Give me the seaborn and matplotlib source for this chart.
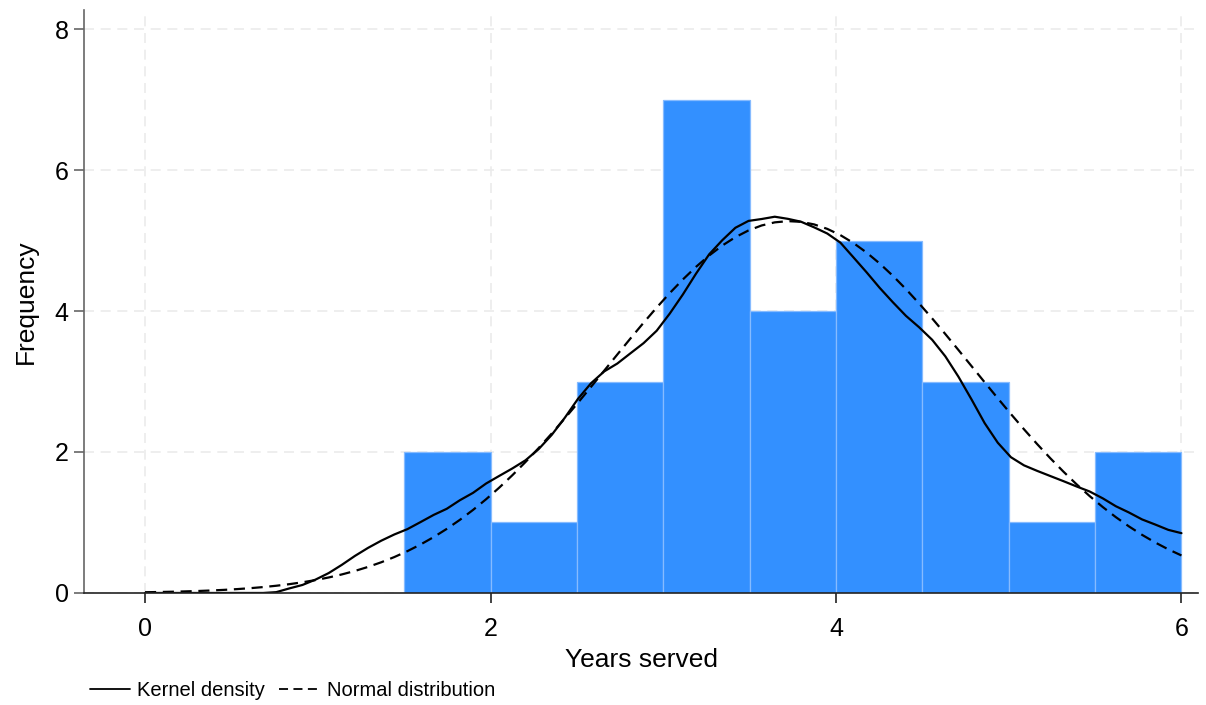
import numpy as np
import pandas as pd
import seaborn as sns
import matplotlib.pyplot as plt
from matplotlib.lines import Line2D

# Years served by each of the 28 members
years_served = [1.75, 1.95,
                2.1,
                2.55, 2.75, 2.9,
                3.1, 3.2, 3.25, 3.3, 3.35, 3.4, 3.45,
                3.75, 3.85, 3.9, 3.95,
                4.0, 4.05, 4.1, 4.2, 4.35,
                4.6, 4.75, 4.9,
                5.15,
                5.9, 6.0]
bin_edges = [1.5, 2.0, 2.5, 3.0, 3.5, 4.0, 4.5, 5.0, 5.5, 6.0]
x_ticks = [0, 2, 4, 6]
y_ticks = [0, 2, 4, 6, 8]
bandwidth = 0.45

sns.set_theme(style="white")
plt.rcParams['font.family'] = ['Liberation Sans', 'DejaVu Sans']

data = np.asarray(years_served, dtype=float)
n = len(data)
width = bin_edges[1] - bin_edges[0]
scale = n * width

# evaluation grid across the axis range
grid = np.linspace(0, 6, 80)

# Epanechnikov kernel density estimate
z = (grid[:, None] - data[None, :]) / bandwidth
k = np.where(np.abs(z) < np.sqrt(5), 0.75 * (1 - z ** 2 / 5) / np.sqrt(5), 0.0)
kde = k.sum(axis=1) / (n * bandwidth)

mu = data.mean()
sd = data.std(ddof=1)
normal = np.exp(-0.5 * ((grid - mu) / sd) ** 2) / (sd * np.sqrt(2 * np.pi))

curves = pd.DataFrame({"x": grid, "kde": kde * scale, "normal": normal * scale})

fig = plt.figure(figsize=(12.06, 7.05), dpi=100)
ax = fig.add_axes([0.0697, 0.1589, 0.9934 - 0.0697, 0.9858 - 0.1589])

sns.histplot(x=data, bins=bin_edges, stat="count", ax=ax,
             color="#3390ff", alpha=1, edgecolor="#86bbff", linewidth=0.9)
sns.lineplot(data=curves, x="x", y="kde", ax=ax, color="black", lw=1.6)
sns.lineplot(data=curves, x="x", y="normal", ax=ax, color="black", lw=1.6,
             linestyle=(0, (5, 3)))

ax.set_xlim(-0.353, 6.096)
ax.set_ylim(0, 8.27)
ax.set_xticks(x_ticks)
ax.set_yticks(y_ticks)
ax.tick_params(axis="both", labelsize=18, length=7, width=1.2,
               labelcolor="black", left=True, bottom=True)
ax.tick_params(axis="y", color="#666666", pad=4)
ax.tick_params(axis="x", color="#222222", pad=10)
ax.grid(True, color="#ebebeb", linestyle=(0, (6, 4)), linewidth=1.2)
ax.set_axisbelow(True)
for side in ("top", "right"):
    ax.spines[side].set_visible(False)
ax.spines["left"].set_color("#666666")
ax.spines["bottom"].set_color("#222222")
ax.spines["left"].set_linewidth(1.2)
ax.spines["bottom"].set_linewidth(1.2)

ax.set_xlabel("Years served", fontsize=19, labelpad=5, color="black")
ax.set_ylabel("Frequency", fontsize=19, labelpad=12, color="black")

handles = [Line2D([], [], color="black", lw=1.3),
           Line2D([], [], color="black", lw=1.3, linestyle=(0, (5, 3)))]
fig.legend(handles, ["Kernel density", "Normal distribution"],
           loc="center left", bbox_to_anchor=(0.0746, 0.021), ncol=2,
           frameon=False, fontsize=14.5, handlelength=2.0, handletextpad=0.35,
           columnspacing=0.7, borderpad=0, borderaxespad=0, labelcolor="black")

fig.savefig("out.png", dpi=100)
